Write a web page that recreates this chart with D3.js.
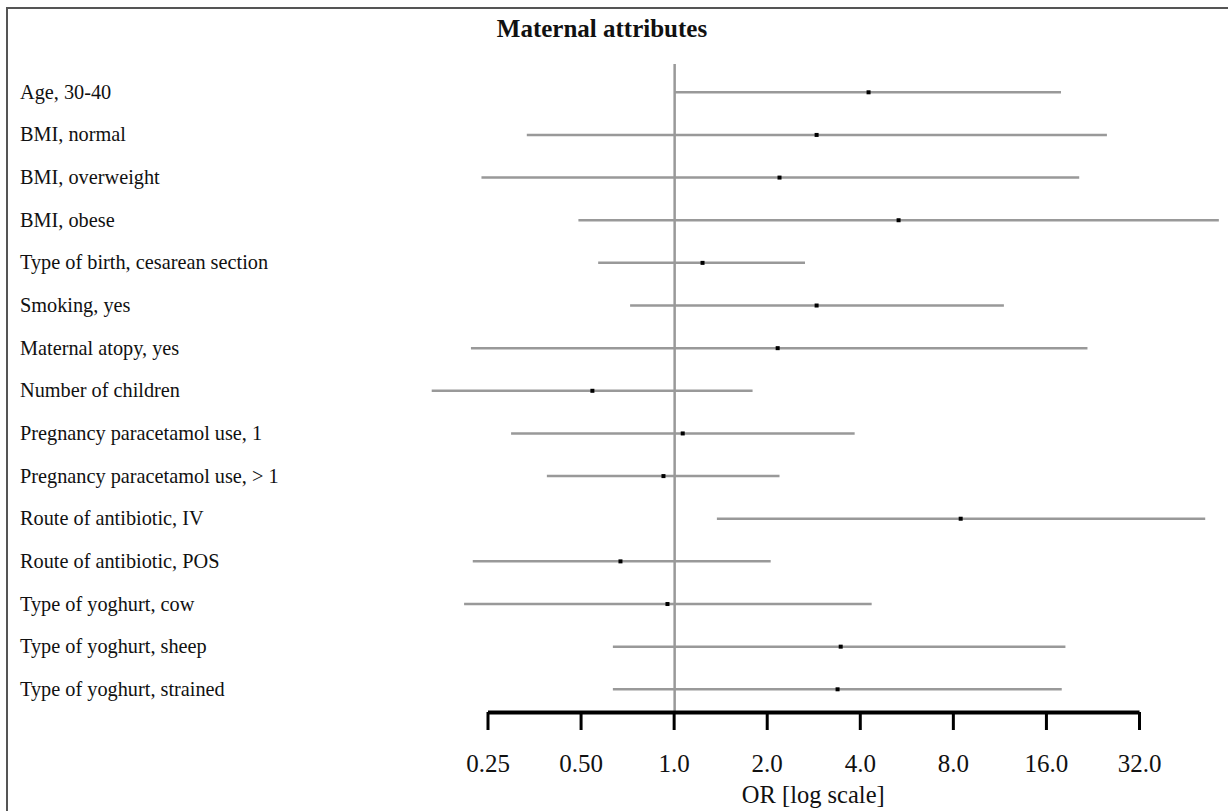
<!DOCTYPE html>
<html>
<head>
<meta charset="utf-8">
<script src="https://cdn.jsdelivr.net/npm/d3@7"></script>
<style>
  body { margin: 0; background: #fff; }
  text { font-family: "Liberation Serif", "DejaVu Serif", serif; fill: #111; }
</style>
</head>
<body>
<div id="forest"></div>
<script>
// row labels, top to bottom
const labels = [
  "Age, 30-40",
  "BMI, normal",
  "BMI, overweight",
  "BMI, obese",
  "Type of birth, cesarean section",
  "Smoking, yes",
  "Maternal atopy, yes",
  "Number of children",
  "Pregnancy paracetamol use, 1",
  "Pregnancy paracetamol use, > 1",
  "Route of antibiotic, IV",
  "Route of antibiotic, POS",
  "Type of yoghurt, cow",
  "Type of yoghurt, sheep",
  "Type of yoghurt, strained"
];

// odds ratios and 95% CI
const orValues = [4.27, 2.90, 2.20, 5.34, 1.24, 2.90, 2.17, 0.546, 1.07, 0.927, 8.48, 0.673, 0.955, 3.47, 3.39];
const lowerCI = [1.01, 0.335, 0.239, 0.492, 0.570, 0.723, 0.221, 0.165, 0.298, 0.389, 1.38, 0.224, 0.210, 0.636, 0.636];
const upperCI = [17.9, 25.2, 20.5, 58.0, 2.66, 11.7, 21.8, 1.80, 3.85, 2.20, 52.4, 2.06, 4.37, 18.5, 18.0];

const tickValues = [0.25, 0.5, 1, 2, 4, 8, 16, 32];
const tickLabels = ["0.25", "0.50", "1.0", "2.0", "4.0", "8.0", "16.0", "32.0"];

const data = labels.map((l, i) => ({
  label: l, or: orValues[i], lo: lowerCI[i], hi: upperCI[i]
}));

const W = 1228, H = 811;
const axisY = 712;

const svg = d3.select("#forest")
  .append("svg")
  .attr("width", W)
  .attr("height", H);

// frame (only top and left edges visible)
svg.append("path")
  .attr("d", `M7,${H + 5} V8 H${W + 5}`)
  .attr("fill", "none")
  .attr("stroke", "#555")
  .attr("stroke-width", 2);

const x = d3.scaleLog().base(2).domain([0.25, 32]).range([487.5, 1139]);
const y = d3.scalePoint().domain(labels).range([92.3, 689.3]);

// title
svg.append("text")
  .attr("x", 602)
  .attr("y", 37)
  .attr("text-anchor", "middle")
  .style("font-size", "25px")
  .style("font-weight", "bold")
  .text("Maternal attributes");

// row labels
svg.append("g")
  .selectAll("text")
  .data(data)
  .join("text")
  .attr("x", 20)
  .attr("y", (d) => y(d.label))
  .attr("dy", "0.32em")
  .style("font-size", "20.3px")
  .text((d) => d.label);

// reference line at OR = 1
svg.append("line")
  .attr("x1", x(1) + 1)
  .attr("x2", x(1) + 1)
  .attr("y1", 64)
  .attr("y2", axisY)
  .attr("stroke", "#999")
  .attr("stroke-width", 2.5);

// confidence intervals
svg.append("g")
  .selectAll("line")
  .data(data)
  .join("line")
  .attr("x1", (d) => x(d.lo))
  .attr("x2", (d) => x(d.hi))
  .attr("y1", (d) => y(d.label))
  .attr("y2", (d) => y(d.label))
  .attr("stroke", "#999")
  .attr("stroke-width", 2.5);

// point estimates
svg.append("g")
  .selectAll("rect")
  .data(data)
  .join("rect")
  .attr("x", (d) => x(d.or) - 2)
  .attr("y", (d) => y(d.label) - 2)
  .attr("width", 4)
  .attr("height", 4)
  .attr("fill", "#000");

// x axis
const xAxis = svg.append("g")
  .attr("transform", `translate(0,${axisY})`)
  .call(d3.axisBottom(x)
    .tickValues(tickValues)
    .tickFormat((d, i) => tickLabels[i])
    .tickSize(18)
    .tickSizeOuter(0));

xAxis.select(".domain")
  .attr("stroke", "#000")
  .attr("stroke-width", 4);
xAxis.selectAll(".tick line")
  .attr("stroke", "#000")
  .attr("stroke-width", 3);
xAxis.selectAll(".tick text")
  .attr("y", 60)
  .attr("dy", 0)
  .style("font-family", '"Liberation Serif", serif')
  .style("font-size", "25px")
  .attr("fill", "#111");

svg.append("text")
  .attr("x", (x.range()[0] + x.range()[1]) / 2)
  .attr("y", 803)
  .attr("text-anchor", "middle")
  .style("font-size", "24.5px")
  .text("OR [log scale]");
</script>
</body>
</html>
